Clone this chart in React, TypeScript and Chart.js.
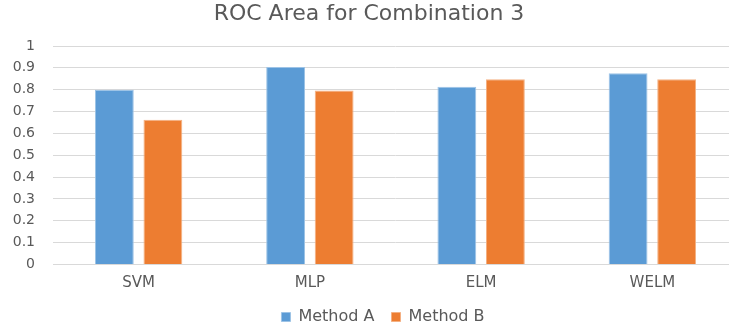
import React, { useEffect, useRef } from "react";
import { Chart, registerables } from "chart.js";

Chart.register(...registerables);

const categories = ["SVM", "MLP", "ELM", "WELM"];
const methodA = [0.8, 0.904, 0.813, 0.875];
const methodB = [0.662, 0.796, 0.848, 0.848];
const yTicks = [0, 0.1, 0.2, 0.3, 0.4, 0.5, 0.6, 0.7, 0.8, 0.9, 1];
const titleText = "ROC Area for Combination 3";
const seriesNames = ["Method A", "Method B"];

const FONT = "'DejaVu Sans', Verdana, sans-serif";
const TEXT = "#595959";

// nudges the legend row to the right, as in the reference
const legendShift = {
  id: "legendShift",
  afterLayout(chart: any) {
    if (chart.legend) {
      chart.legend.left += 14;
      chart.legend.right += 14;
    }
  },
};

export default function App() {
  const ref = useRef<HTMLCanvasElement | null>(null);
  useEffect(() => {
    if (!ref.current) return;
    document.body.style.margin = "0";
    const chart = new Chart(ref.current, {
      type: "bar",
      plugins: [legendShift],
      data: {
        labels: categories,
        datasets: [
          {
            label: seriesNames[0],
            data: methodA,
            backgroundColor: "#5B9BD5",
            borderColor: "#9DC3E6",
            borderWidth: 1,
            barPercentage: 0.8,
            categoryPercentage: 0.567,
          },
          {
            label: seriesNames[1],
            data: methodB,
            backgroundColor: "#ED7D31",
            borderColor: "#F4B183",
            borderWidth: 1,
            barPercentage: 0.8,
            categoryPercentage: 0.567,
          },
        ],
      },
      options: {
        responsive: false,
        animation: false,
        layout: { padding: { top: 0, right: 7, bottom: 0, left: 0 } },
        plugins: {
          title: {
            display: true,
            text: titleText,
            color: TEXT,
            font: { family: FONT, size: 22, weight: "normal" },
            padding: { top: 1, bottom: 18.6 },
          },
          legend: {
            position: "bottom",
            labels: {
              color: TEXT,
              font: { family: FONT, size: 16 },
              boxWidth: 9,
              boxHeight: 9,
              padding: 17,
            },
          },
          tooltip: { enabled: false },
        },
        scales: {
          x: {
            afterFit: (scale: any) => {
              scale.height = 27.6;
            },
            grid: { display: false, drawTicks: false },
            border: { display: true, color: "#d9d9d9" },
            ticks: {
              color: TEXT,
              font: { family: FONT, size: 15 },
              padding: 9.6,
            },
          },
          y: {
            min: 0,
            max: 1,
            afterBuildTicks: (scale: any) => {
              scale.ticks = yTicks.map((v) => ({ value: v }));
            },
            afterFit: (scale: any) => {
              scale.width = 53;
            },
            grid: { color: "#d9d9d9", drawTicks: false },
            border: { display: false },
            ticks: {
              color: TEXT,
              font: { family: FONT, size: 14 },
              padding: 18,
              callback: (v: any) => String(Math.round(Number(v) * 10) / 10),
            },
          },
        },
      },
    });
    return () => chart.destroy();
  }, []);
  return (
    <div style={{ width: 729, height: 328, overflow: "hidden", position: "relative", background: "#fff" }}>
      <canvas ref={ref} width={745} height={335} style={{ display: "block", width: 745, height: 335 }} />
    </div>
  );
}
